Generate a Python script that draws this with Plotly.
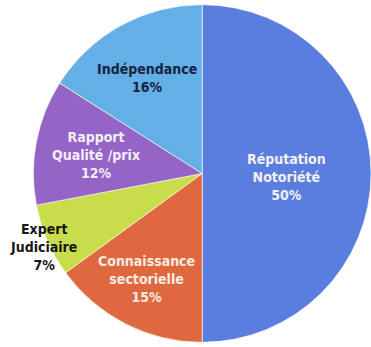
import plotly.graph_objects as go

labels = ["Réputation<br>Notoriété", "Connaissance<br>sectorielle", "Expert<br>Judiciaire",
          "Rapport<br>Qualité /prix", "Indépendance"]
values = [50, 15, 7, 12, 16]
colors = ["#5a7ee0", "#e0683e", "#c9dc4c", "#9465c6", "#63afe6"]
text_colors = ["#f4f0ee", "#f6ece4", "#161616", "#f4eef6", "#17223c"]
# label centre points (pixels in the 371x347 canvas)
label_px = [(286, 177), (146, 279), (43, 247), (96, 155), (147, 78)]

W, H = 371, 347

fig = go.Figure(go.Pie(
    labels=labels, values=values, sort=False, direction="clockwise", rotation=0,
    marker=dict(colors=colors, line=dict(color="rgba(255,255,240,0.6)", width=1)),
    textinfo="none", hoverinfo="label+percent", showlegend=False,
    domain=dict(x=[0.09, 1.0], y=[0.0, 1.0]),
))

annotations = []
for lab, val, tc, (px, py) in zip(labels, values, text_colors, label_px):
    annotations.append(dict(
        x=px / W, y=1 - py / H, xref="paper", yref="paper",
        xanchor="center", yanchor="middle",
        text=f"<b>{lab}<br>{val}%</b>", showarrow=False, align="center",
        font=dict(family="DejaVu Sans Condensed, Liberation Sans", size=14, color=tc),
    ))

fig.update_layout(
    width=W, height=H, margin=dict(l=0, r=0, t=0, b=0),
    paper_bgcolor="white", plot_bgcolor="white",
    annotations=annotations,
)
fig.write_html("out.html")
